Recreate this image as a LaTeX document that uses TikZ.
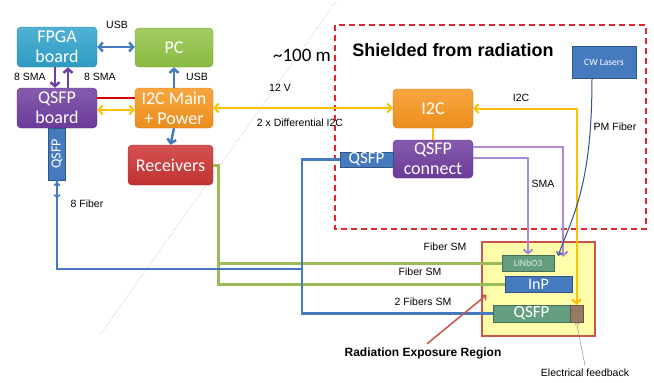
\documentclass[tikz,border=0pt]{standalone}
\usepackage{fontspec}
\setmainfont{Liberation Sans}
\newfontfamily\boxfont{Carlito}
\usepackage{graphicx}
\usetikzlibrary{arrows.meta, positioning}
\definecolor{fpgablue}{RGB}{49,163,204}
\definecolor{pcgreen}{RGB}{146,196,70}
\definecolor{qsfppurple}{RGB}{112,62,160}
\definecolor{i2corange}{RGB}{247,150,30}
\definecolor{recvred}{RGB}{204,51,51}
\definecolor{linkblue}{RGB}{70,122,190}
\definecolor{linkyellow}{RGB}{255,192,0}
\definecolor{fibergreen}{RGB}{155,187,89}
\definecolor{smapurple}{RGB}{175,135,215}
\definecolor{shieldred}{RGB}{220,40,50}
\definecolor{radyellow}{RGB}{255,253,170}
\definecolor{radborder}{RGB}{200,85,75}
\definecolor{chipgreen}{RGB}{100,158,128}
\definecolor{fbbrown}{RGB}{150,122,100}

\begin{document}
\begin{tikzpicture}[x=1pt, y=-1pt, >={Straight Barb[length=4pt, width=9pt]},
  block/.style={rounded corners=4pt, text=white, inner sep=0pt, align=center,
    font=\boxfont\fontsize{18}{20}\selectfont, draw=#1!80!black,
    top color=#1!85!white, bottom color=#1!95!black},
  chip/.style={inner sep=0pt, text=white, draw=#1!70!black, fill=#1,
    font=\boxfont\fontsize{16}{16}\selectfont},
  lbl/.style={font=\fontsize{10.5}{12}\selectfont},
  bluelink/.style={linkblue, line width=2.5pt, ->},
  yellowlink/.style={linkyellow, line width=2pt},
  fiber/.style={fibergreen, line width=3pt},
  bluefiber/.style={linkblue, line width=2.2pt},
  sma/.style={smapurple, line width=2pt, ->}]
  \useasboundingbox (0,0) rectangle (654,383);

  % boxes on the far side
  \node[block=fpgablue, minimum width=80pt, minimum height=40pt] (fpga) at (57,47) {FPGA\\board};
  \node[block=pcgreen, minimum width=78pt, minimum height=39pt] (pc) at (174,47.5) {PC};
  \node[block=qsfppurple, minimum width=80pt, minimum height=40pt] (qsfpb) at (57,108) {QSFP\\board};
  \node[block=i2corange, minimum width=78pt, minimum height=40pt] (i2cm) at (174,108) {I2C Main\\+ Power};
  \node[block=recvred, minimum width=85pt, minimum height=40pt] (recv) at (170.5,165) {Receivers};
  \node[chip=linkblue, minimum width=17pt, minimum height=52pt, font=\boxfont\fontsize{14}{14}\selectfont] (qsfpv) at (57,154) {\rotatebox{90}{QSFP}};

  \draw[gray!80, densely dotted] (100,335) -- (337,0);
  \node[font=\boxfont\fontsize{19}{19}\selectfont] (dist) at (302,55) {\textasciitilde100 m};

  % shielded region
  \draw[shieldred, line width=2pt, dash pattern=on 6pt off 4pt] (335,25) rectangle (646,229);
  \node[font=\bfseries\fontsize{18}{18}\selectfont] (shieldlbl) at (453,50) {Shielded from radiation};
  \node[block=i2corange, minimum width=80pt, minimum height=39pt] (i2c) at (433,108.5) {I2C};
  \node[block=qsfppurple, minimum width=80pt, minimum height=38pt] (qconn) at (433,159) {QSFP\\connect};
  \node[chip=linkblue, minimum width=53pt, minimum height=15pt, font=\boxfont\fontsize{17}{17}\selectfont] (qtab) at (366.5,159.5) {QSFP};
  \node[chip=linkblue, minimum width=64pt, minimum height=32pt, font=\boxfont\fontsize{9.5}{9.5}\selectfont] (cw) at (604,62) {CW Lasers};

  % radiation exposure region
  \node[draw=radborder, fill=radyellow, line width=1.2pt, minimum width=113pt, minimum height=94pt] (radbox) at (538.5,289) {};
  \node[chip=chipgreen, minimum width=52pt, minimum height=16pt, text=white!80!chipgreen, font=\boxfont\fontsize{9.5}{9.5}\selectfont] (linbo) at (528,263) {LiNbO3};
  \node[chip=linkblue, minimum width=67pt, minimum height=16pt] (inp) at (538.5,284) {InP};
  \node[chip=chipgreen, minimum width=77pt, minimum height=17pt, font=\boxfont\fontsize{17}{17}\selectfont] (qsfpr) at (531.5,313.5) {QSFP};
  \node[chip=fbbrown, minimum width=13pt, minimum height=17pt] (fb) at (576.5,313.5) {};

  % links
  \draw[bluelink, <->] (fpga.east) -- (fpga.east -| pc.west);
  \draw[bluelink] (i2cm.north) -- (pc.south);
  \draw[bluelink] (i2cm.south) -- (recv.north);
  \draw[qsfppurple, line width=2.5pt, ->] ([xshift=-2pt]fpga.south) -- ([xshift=-2pt]qsfpb.north);
  \draw[qsfppurple, line width=2.5pt, ->] ([xshift=11pt]qsfpb.north) -- ([xshift=11pt]fpga.south);
  \draw[red!85!black, line width=2pt] ([yshift=10pt]qsfpb.east) -- ([yshift=10pt]qsfpb.east -| i2cm.west);
  \draw[yellowlink, <->] ([yshift=-2pt]qsfpb.east) -- ([yshift=-2pt]qsfpb.east -| i2cm.west);
  \draw[yellowlink, <->] (i2cm.east) -- (i2cm.east -| i2c.west);
  \draw[yellowlink] (i2c.south) -- (qconn.north);
  \draw[yellowlink, <->] (i2c.east) -| (fb.north);
  \draw[sma] ([yshift=12pt]qconn.east) -| ([xshift=9pt, yshift=-2pt]linbo.north east);
  \draw[sma] ([yshift=1pt]qconn.east) -| (linbo.north);
  \draw[linkblue!70!black, line width=1pt, -{Straight Barb[length=3pt, width=6pt]}]
    ([xshift=-12pt]cw.south) .. controls +(0,110) and +(14,-40) .. ([xshift=4pt, yshift=-1pt]linbo.north east);

  % fibers
  \coordinate (fibjoin) at (302,269);
  \draw[fiber] (recv.east) -- ++(5,0) |- (linbo.west);
  \draw[fiber] (recv.east) -- ++(5,0) |- (inp.west);
  \draw[bluefiber] (qtab.west) -- ++(-38,0) |- (qsfpr.west);
  \draw[bluefiber] (qsfpv.south) |- (fibjoin);
  \draw[linkblue, line width=1.5pt, {Straight Barb[length=2.5pt, width=6pt]}-{Straight Barb[length=2.5pt, width=6pt]}] ([yshift=-2pt]qsfpv.south) -- ++(0,16);

  % labels
  \node[lbl] (usb1) at (117,25) {USB};
  \node[lbl] (usb2) at (197,77) {USB};
  \node[lbl] (sma1) at (30,77) {8 SMA};
  \node[lbl] (sma2) at (100,77) {8 SMA};
  \node[lbl] (volt) at (280,88) {12 V};
  \node[lbl] (diff) at (300,123) {2 x Differential I2C};
  \node[lbl] (i2clbl) at (521,98) {I2C};
  \node[lbl] (smalbl) at (543,184) {SMA};
  \node[lbl] (pmlbl) at (615,127) {PM Fiber};
  \node[lbl] (fib8) at (87,204) {8 Fiber};
  \node[lbl] (fsm1) at (445,247) {Fiber SM};
  \node[lbl] (fsm2) at (420,272) {Fiber SM};
  \node[lbl] (fsm3) at (423,302) {2 Fibers SM};
  \node[font=\bfseries\fontsize{12}{12}\selectfont] (radlbl) at (423,353) {Radiation Exposure Region};
  \node[lbl] (eflbl) at (585,373) {Electrical feedback};
  \draw[radborder, line width=1.5pt, -{Straight Barb[length=3pt, width=7pt]}] ([xshift=4pt]radlbl.north) -- ([xshift=5pt, yshift=-6pt]radbox.west);
  \draw[gray, -{Straight Barb[length=2.5pt, width=5pt]}] (eflbl.north) -- (fb.south);
\end{tikzpicture}
\end{document}
